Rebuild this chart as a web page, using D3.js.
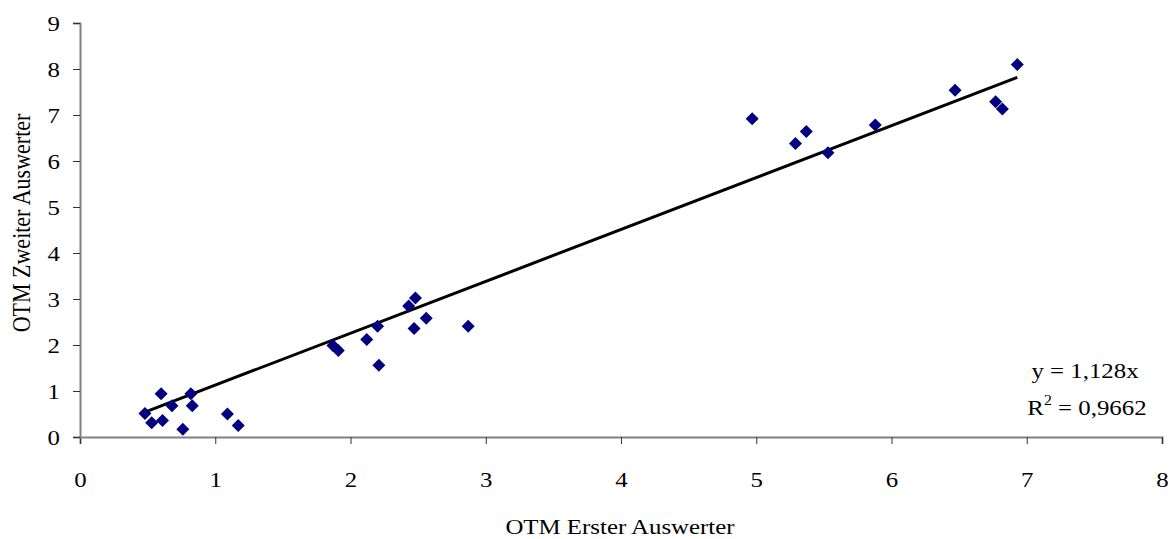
<!DOCTYPE html>
<html>
<head>
<meta charset="utf-8">
<script src="https://cdnjs.cloudflare.com/ajax/libs/d3/7.8.5/d3.min.js"></script>
<style>
  body { margin: 0; background: #fff; }
  text { font-family: "Liberation Serif", "Times New Roman", serif; fill: #000; }
</style>
</head>
<body>
<div id="chart"></div>
<script>
"use strict";

// OTM Erster Auswerter (x) vs. OTM Zweiter Auswerter (y)
var xValues = [0.48, 0.53, 0.60, 0.61, 0.68, 0.76, 0.82, 0.83, 1.09, 1.17,
               1.87, 1.91, 2.12, 2.20, 2.21, 2.43, 2.48, 2.47, 2.56, 2.87,
               4.97, 5.29, 5.37, 5.53, 5.88, 6.47, 6.77, 6.82, 6.93];
var yValues = [0.51, 0.31, 0.94, 0.36, 0.68, 0.17, 0.94, 0.68, 0.50, 0.25,
               1.99, 1.88, 2.12, 2.41, 1.56, 2.85, 3.02, 2.36, 2.58, 2.41,
               6.92, 6.38, 6.64, 6.18, 6.78, 7.54, 7.29, 7.13, 8.10];
var slope = 1.128;
var xTicks = [0, 1, 2, 3, 4, 5, 6, 7, 8];
var yTicks = [0, 1, 2, 3, 4, 5, 6, 7, 8, 9];

var width = 1176;
var height = 539;
var margin = {top: 23, right: 14, bottom: 102, left: 80};
var fs = 22;       // font size
var sx = 1.13;     // the original picture is a bit stretched sideways

var data = xValues.map(function(d, i) { return {x: d, y: yValues[i]}; });

var svg = d3.select("#chart").append("svg")
	.attr("width", width)
	.attr("height", height);

var x = d3.scaleLinear()
	.domain([0, 8])
	.range([margin.left, width - margin.right]);

var y = d3.scaleLinear()
	.domain([0, 9])
	.range([height - margin.bottom, margin.top]);

var xAxis = d3.axisBottom(x)
	.tickValues(xTicks)
	.tickSize(7)
	.tickFormat(d3.format("d"));

var yAxis = d3.axisLeft(y)
	.tickValues(yTicks)
	.tickSize(7)
	.tickFormat(d3.format("d"));

var gx = svg.append("g")
	.attr("class", "axis--x")
	.attr("transform", "translate(0," + y(0) + ")")
	.call(xAxis);

var gy = svg.append("g")
	.attr("class", "axis--y")
	.attr("transform", "translate(" + x(0) + ",0)")
	.call(yAxis);

[gx, gy].forEach(function(g) {
	g.select(".domain").attr("stroke", "#808080").attr("stroke-width", 2);
	g.selectAll(".tick line").attr("stroke", "#333").attr("stroke-width", 1);
	g.selectAll(".tick text")
		.style("font-family", "'Liberation Serif', 'Times New Roman', serif")
		.style("font-size", fs + "px")
		.attr("fill", "#000");
});
gx.selectAll(".tick text")
	.attr("y", 50)
	.attr("dy", 0)
	.attr("transform", "scale(" + sx + ",1)");
gy.selectAll(".tick text")
	.attr("x", -20 / sx)
	.attr("dy", "0.34em")
	.attr("transform", "scale(" + sx + ",1)");

// trend line y = 1,128x over the range of the data
var xExt = d3.extent(xValues);
var line = d3.line()
	.x(function(d) { return x(d); })
	.y(function(d) { return y(slope * d); });

svg.append("path")
	.datum(xExt)
	.attr("fill", "none")
	.attr("stroke", "#000")
	.attr("stroke-width", 3)
	.attr("d", line);

// diamond markers
svg.selectAll("path.dot")
	.data(data)
	.enter()
	.append("path")
	.attr("class", "dot")
	.attr("d", "M0,-6.5L6.5,0L0,6.5L-6.5,0Z")
	.attr("fill", "#000080")
	.attr("transform", function(d) { return "translate(" + x(d.x) + "," + y(d.y) + ")"; });

// equation
function stretched(cx, cy) {
	return svg.append("text")
		.attr("transform", "translate(" + cx + "," + cy + ") scale(" + sx + ",1)")
		.attr("text-anchor", "middle")
		.style("font-size", fs + "px");
}

stretched(1085, 378).text("y = 1,128x");

var r2 = stretched(1087, 415);
r2.append("tspan").text("R");
r2.append("tspan").attr("dy", -10).style("font-size", "14px").text("2");
r2.append("tspan").attr("dy", 10).text(" = 0,9662");

// axis titles
stretched(620, 534).text("OTM Erster Auswerter");

svg.append("text")
	.attr("transform", "translate(30,223) rotate(-90) scale(1," + sx + ")")
	.attr("text-anchor", "middle")
	.style("font-size", fs + "px")
	.text("OTM Zweiter Auswerter");
</script>
</body>
</html>
